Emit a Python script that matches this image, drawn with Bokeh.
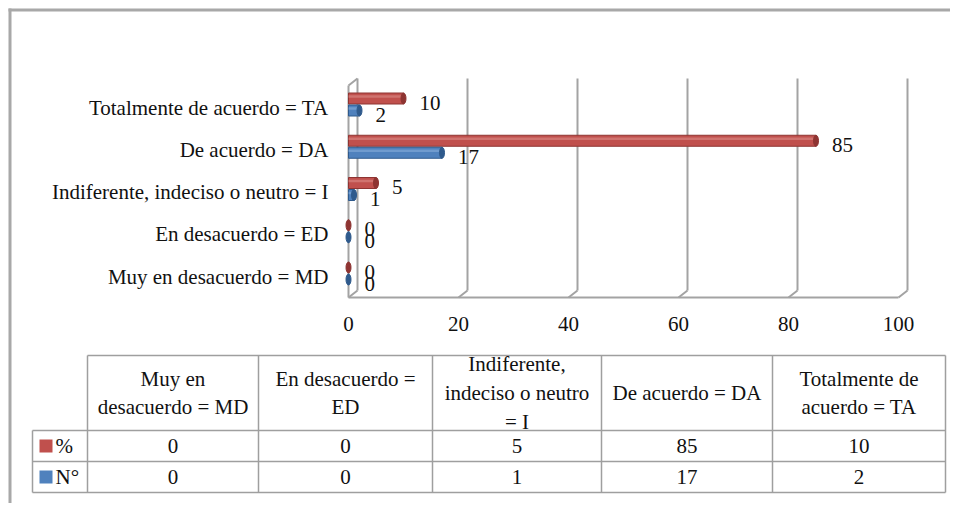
from bokeh.plotting import figure
from bokeh.models import Range1d
from bokeh.embed import file_html
from bokeh.resources import INLINE
from bokeh.core.properties import value

# ---------------- data ----------------
categories = ["Muy en desacuerdo = MD", "En desacuerdo = ED",
              "Indiferente, indeciso o neutro = I", "De acuerdo = DA",
              "Totalmente de acuerdo = TA"]
table_headers = ["Muy en\ndesacuerdo = MD", "En desacuerdo =\nED",
                 "Indiferente,\nindeciso o neutro\n= I", "De acuerdo = DA",
                 "Totalmente de\nacuerdo = TA"]
series_names = ["%", "N°"]
pct = [0, 0, 5, 85, 10]
num = [0, 0, 1, 17, 2]
x_ticks = [0, 20, 40, 60, 80, 100]

# ---------------- styles ----------------
RED, RED_DARK, RED_LIGHT = "#C0504D", "#8E3432", "#DC8F8C"
BLUE, BLUE_DARK, BLUE_LIGHT = "#4F81BD", "#2F5A8C", "#8DB0DC"
WALL = "#a3a3a3"
BORDER = "#a8a8a8"
FONT = "Liberation Serif"
FS = "21px"
TXT = "#111111"

# geometry (pixels, in picture coordinates)
PX0, PY0 = 0, 0
W, H = 950, 503
BORDER_X, BORDER_Y = 9.5, 9.5
X0_PX, PX_PER_X = 348, 5.5         # x of value 0, px per unit
Y0_PX, PX_PER_Y = 273, 42.25       # y of first category, px per category
DEPTH_X, DEPTH_Y = 9, 7            # 3D depth in px
FLOOR_PX, TOP_PX = 297, 78
CAT_LABEL_RIGHT = 328
TICK_LABEL_Y = 323

x_start = (PX0 - X0_PX) / PX_PER_X
x_end = (PX0 + W - X0_PX) / PX_PER_X
y_start = (Y0_PX - (PY0 + H)) / PX_PER_Y
y_end = (Y0_PX - PY0) / PX_PER_Y
dx = DEPTH_X / PX_PER_X
dy = DEPTH_Y / PX_PER_Y
floor_front = (Y0_PX - FLOOR_PX) / PX_PER_Y
floor_back = floor_front + dy
top_back = (Y0_PX - TOP_PX) / PX_PER_Y
top_front = top_back - dy

p = figure(width=W, height=H, output_backend="svg", toolbar_location=None,
           x_range=Range1d(x_start, x_end), y_range=Range1d(y_start, y_end),
           x_axis_type=None, y_axis_type=None,
           min_border_left=0, min_border_right=0, min_border_top=0, min_border_bottom=0)
p.extra_x_ranges = {"px": Range1d(PX0, PX0 + W)}
p.extra_y_ranges = {"py": Range1d(PY0 + H, PY0)}
p.outline_line_color = None
p.xgrid.visible = False
p.ygrid.visible = False

# outer border (left + top)
p.segment(x0=[BORDER_X - 1.5, BORDER_X], y0=[BORDER_Y, BORDER_Y - 1.5],
          x1=[PX0 + W, BORDER_X], y1=[BORDER_Y, PY0 + H],
          line_color=BORDER, line_width=3, x_range_name="px", y_range_name="py")

# 3D walls / floor
xs0, ys0, xs1, ys1 = [], [], [], []
for t in x_ticks:
    xs0.append(t + dx); ys0.append(floor_back); xs1.append(t + dx); ys1.append(top_back)
    xs0.append(t); ys0.append(floor_front); xs1.append(t + dx); ys1.append(floor_back)
xs0.append(x_ticks[0]); ys0.append(floor_front); xs1.append(x_ticks[-1]); ys1.append(floor_front)
xs0.append(x_ticks[0]); ys0.append(floor_front); xs1.append(x_ticks[0]); ys1.append(top_front)
xs0.append(x_ticks[0]); ys0.append(top_front); xs1.append(x_ticks[0] + dx); ys1.append(top_back)
p.segment(x0=xs0, y0=ys0, x1=xs1, y1=ys1, line_color=WALL, line_width=2)

# x tick labels
p.text(x=x_ticks, y=[floor_front] * len(x_ticks), text=[str(v) for v in x_ticks],
       y_offset=TICK_LABEL_Y - FLOOR_PX, text_align="center", text_baseline="middle",
       text_font=value(FONT), text_font_size=FS, text_color=TXT)

# category labels
ypos = list(range(len(categories)))
p.text(x=[CAT_LABEL_RIGHT] * len(categories), y=ypos, text=categories,
       x_range_name="px", y_offset=3, text_align="right", text_baseline="middle",
       text_font=value(FONT), text_font_size=FS, text_color=TXT)

# bars
BAR_H = 11 / PX_PER_Y
OFF = 6 / PX_PER_Y
for vals, off, c, cd, cl in [(pct, OFF, RED, RED_DARK, RED_LIGHT),
                             (num, -OFF, BLUE, BLUE_DARK, BLUE_LIGHT)]:
    yy = [y + off for y in ypos]
    p.hbar(y=yy, left=0, right=vals, height=BAR_H, fill_color=c,
           line_color=cd, line_width=1)
    p.hbar(y=[y + BAR_H * 0.18 for y in yy], left=0, right=vals, height=BAR_H * 0.22,
           fill_color=cl, fill_alpha=0.55, line_color=None)
    p.ellipse(x=vals, y=yy, width=5, height=11, width_units="screen",
              height_units="screen", fill_color=cd, line_color=cd)
    p.text(x=vals, y=yy, text=[str(v) for v in vals], x_offset=16, y_offset=4,
           text_baseline="middle", text_align="left", text_font=value(FONT),
           text_font_size=FS, text_color=TXT)

# ---------------- table ----------------
KEY_L = 32
COL_EDGES = [87, 258, 432, 601, 772, 945]
ROW_EDGES = [355, 430, 461, 492]
LINE = "#9f9f9f"

hx0, hy0, hx1, hy1 = [], [], [], []
hx0.append(COL_EDGES[0]); hy0.append(ROW_EDGES[0]); hx1.append(COL_EDGES[-1]); hy1.append(ROW_EDGES[0])
for r in ROW_EDGES[1:]:
    hx0.append(KEY_L); hy0.append(r); hx1.append(COL_EDGES[-1]); hy1.append(r)
hx0.append(KEY_L); hy0.append(ROW_EDGES[1]); hx1.append(KEY_L); hy1.append(ROW_EDGES[-1])
for c in COL_EDGES:
    hx0.append(c); hy0.append(ROW_EDGES[0]); hx1.append(c); hy1.append(ROW_EDGES[-1])
p.segment(x0=hx0, y0=hy0, x1=hx1, y1=hy1, line_color=LINE, line_width=1.5,
          x_range_name="px", y_range_name="py")

col_centers = [(COL_EDGES[i] + COL_EDGES[i + 1]) / 2 for i in range(len(categories))]
row_centers = [(ROW_EDGES[i] + ROW_EDGES[i + 1]) / 2 for i in range(len(ROW_EDGES) - 1)]

p.text(x=col_centers, y=[row_centers[0]] * len(categories), text=table_headers,
       x_range_name="px", y_range_name="py",
       text_align="center", text_baseline="middle", text_font=value(FONT),
       text_font_size=FS, text_color=TXT, text_line_height=1.2)
for ri, (vals, c) in enumerate([(pct, RED), (num, BLUE)]):
    yc = row_centers[ri + 1]
    p.text(x=col_centers, y=[yc] * len(vals), text=[str(v) for v in vals],
           x_range_name="px", y_range_name="py",
           text_align="center", text_baseline="middle", text_font=value(FONT),
           text_font_size=FS, text_color=TXT)
    p.rect(x=[KEY_L + 13.5], y=[yc], width=13, height=13, width_units="screen",
           height_units="screen", fill_color=c, line_color=None,
           x_range_name="px", y_range_name="py")
    p.text(x=[KEY_L + 23], y=[yc], text=[series_names[ri]], text_align="left",
           x_range_name="px", y_range_name="py",
           text_baseline="middle", text_font=value(FONT), text_font_size=FS,
           text_color=TXT)

open("out.html", "w").write(file_html(p, INLINE))
